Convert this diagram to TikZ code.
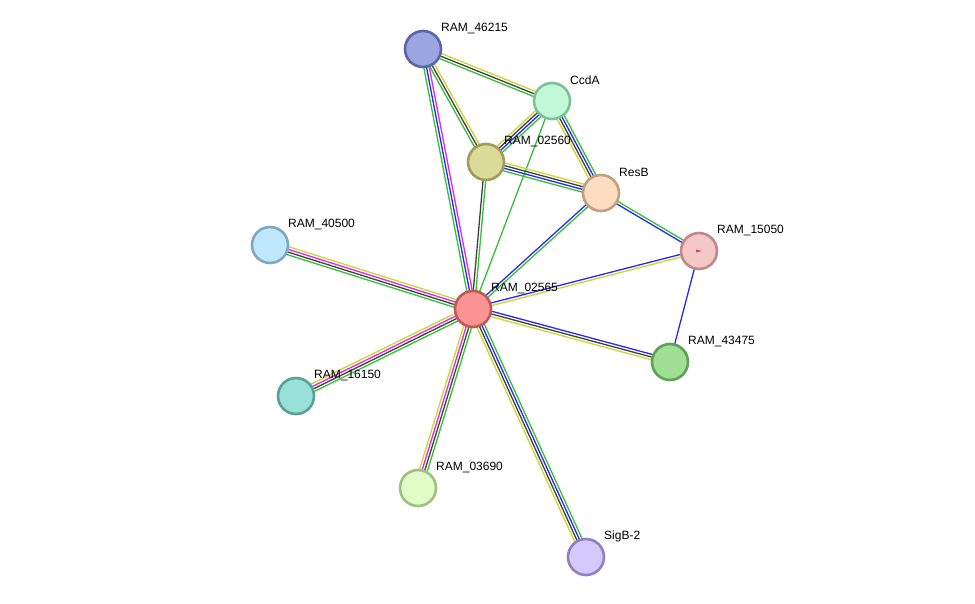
\documentclass[tikz,border=0pt]{standalone}
\usepackage{fontspec}
\setmainfont{Liberation Sans}
\usetikzlibrary{calc,backgrounds}
\definecolor{cY}{HTML}{C8D632}
\definecolor{cK}{HTML}{404040}
\definecolor{cB}{HTML}{2828F0}
\definecolor{cM}{HTML}{E028E0}
\definecolor{cG}{HTML}{34C034}
\definecolor{f1}{RGB}{155,166,224}\definecolor{d1}{RGB}{90,102,168}
\definecolor{f2}{RGB}{192,248,216}\definecolor{d2}{RGB}{128,192,152}
\definecolor{f3}{RGB}{220,218,152}\definecolor{d3}{RGB}{160,156,88}
\definecolor{f4}{RGB}{253,220,192}\definecolor{d4}{RGB}{192,160,128}
\definecolor{f5}{RGB}{245,200,200}\definecolor{d5}{RGB}{192,136,136}
\definecolor{f6}{RGB}{192,232,252}\definecolor{d6}{RGB}{128,168,192}
\definecolor{f7}{RGB}{252,148,148}\definecolor{d7}{RGB}{192,88,88}
\definecolor{f8}{RGB}{160,224,148}\definecolor{d8}{RGB}{96,160,88}
\definecolor{f9}{RGB}{152,224,216}\definecolor{d9}{RGB}{88,160,152}
\definecolor{f10}{RGB}{226,252,200}\definecolor{d10}{RGB}{160,192,128}
\definecolor{f11}{RGB}{212,200,252}\definecolor{d11}{RGB}{144,128,192}
\definecolor{mk}{RGB}{200,80,80}
\tikzset{
  prot/.style={circle,minimum size=36pt,inner sep=0pt,line width=2.6pt},
  lbl/.style={anchor=west,inner sep=0pt,font=\fontsize{12pt}{14pt}\selectfont,text=black},
  ln/.style={line width=1.3pt}
}
\newcommand\lnk[3]{\foreach \c/\o in {#3}{\draw[ln,\c] ($(#1.center)!\o pt!90:(#2.center)$) -- ($(#2.center)!\o pt!-90:(#1.center)$);}}
\begin{document}
\begin{tikzpicture}[x=1pt,y=-1pt]
\useasboundingbox (0,0) rectangle (975,603);
\node[prot,fill=f1,draw=d1] (n46215) at (423,49) {};
\node[prot,fill=f2,draw=d2] (ccda) at (552,101) {};
\node[prot,fill=f3,draw=d3] (n02560) at (486,162) {};
\node[prot,fill=f4,draw=d4] (resb) at (601,193) {};
\node[prot,fill=f5,draw=d5] (n15050) at (699,251) {};
\node[prot,fill=f6,draw=d6] (n40500) at (270,245) {};
\node[prot,fill=f7,draw=d7] (n02565) at (473,309) {};
\node[prot,fill=f8,draw=d8] (n43475) at (670,362) {};
\node[prot,fill=f9,draw=d9] (n16150) at (296,396) {};
\node[prot,fill=f10,draw=d10] (n03690) at (418,488) {};
\node[prot,fill=f11,draw=d11] (sigb) at (586,557) {};
\fill[mk] ($(n15050.center)+(-3,-1.5)$) -- ($(n15050.center)+(3,0)$) -- ($(n15050.center)+(-3,1.5)$) -- cycle;
\begin{scope}[on background layer]
\lnk{n46215}{ccda}{cY/2.7,cK/0,cG/-2.7}
\lnk{n46215}{n02560}{cY/2.7,cK/0,cG/-2.7}
\lnk{n46215}{n02565}{cG/-2.7,cB/0,cM/2.7}
\lnk{ccda}{n02560}{cY/-4,cK/-1.33,cB/1.33,cG/4}
\lnk{ccda}{resb}{cY/-4,cK/-1.33,cB/1.33,cG/4}
\lnk{ccda}{n02565}{cG/0}
\lnk{n02560}{resb}{cY/4,cK/1.33,cB/-1.33,cG/-4}
\lnk{n02560}{n02565}{cK/-1.33,cG/1.33}
\lnk{resb}{n15050}{cB/-1.33,cG/1.33}
\lnk{resb}{n02565}{cB/-1.33,cG/1.33}
\lnk{n02565}{n15050}{cB/1.33,cY/-1.33}
\lnk{n15050}{n43475}{cB/0}
\lnk{n02565}{n43475}{cB/2.7,cK/0,cY/-2.7}
\lnk{n02565}{n40500}{cY/-4,cM/-1.33,cK/1.33,cG/4}
\lnk{n02565}{n16150}{cY/-4,cM/-1.33,cK/1.33,cG/4}
\lnk{n02565}{n03690}{cY/-4,cM/-1.33,cK/1.33,cG/4}
\lnk{n02565}{sigb}{cY/-4,cK/-1.33,cB/1.33,cG/4}
\end{scope}
\node[lbl] (l46215) at ($(n46215.center)+(18,-21)$) {RAM\_46215};
\node[lbl] (lccda) at ($(ccda.center)+(18,-21)$) {CcdA};
\node[lbl] (l02560) at ($(n02560.center)+(18,-21)$) {RAM\_02560};
\node[lbl] (lresb) at ($(resb.center)+(18,-21)$) {ResB};
\node[lbl] (l15050) at ($(n15050.center)+(18,-21)$) {RAM\_15050};
\node[lbl] (l40500) at ($(n40500.center)+(18,-21)$) {RAM\_40500};
\node[lbl] (l02565) at ($(n02565.center)+(18,-21)$) {RAM\_02565};
\node[lbl] (l43475) at ($(n43475.center)+(18,-21)$) {RAM\_43475};
\node[lbl] (l16150) at ($(n16150.center)+(18,-21)$) {RAM\_16150};
\node[lbl] (l03690) at ($(n03690.center)+(18,-21)$) {RAM\_03690};
\node[lbl] (lsigb) at ($(sigb.center)+(18,-21)$) {SigB-2};
\end{tikzpicture}
\end{document}
